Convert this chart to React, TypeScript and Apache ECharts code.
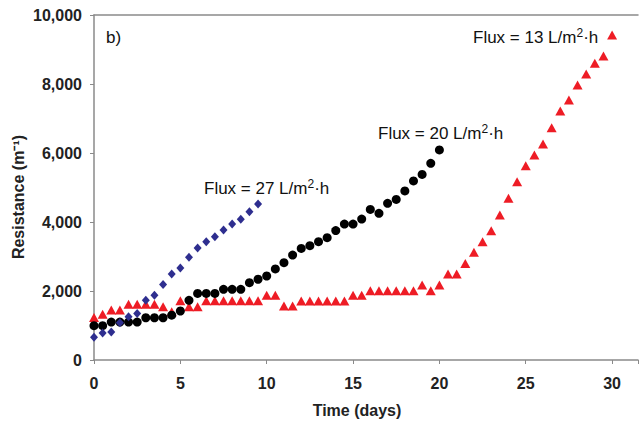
import React, { useEffect, useRef } from "react";
import * as echarts from "echarts";

// Time (days) for each series
const daysFlux27: number[] = [0, 0.5, 1, 1.5, 2, 2.5, 3, 3.5, 4, 4.5, 5, 5.5, 6, 6.5, 7, 7.5, 8, 8.5, 9, 9.5];
const resistFlux27: number[] = [660, 780, 810, 1080, 1255, 1350, 1730, 1880, 2190, 2490, 2670, 2975, 3245, 3430, 3575, 3770, 3940, 4080, 4300, 4520];

const daysFlux20: number[] = [
  0, 0.5, 1, 1.5, 2, 2.5, 3, 3.5, 4, 4.5, 5, 5.5, 6, 6.5, 7, 7.5, 8, 8.5, 9, 9.5,
  10, 10.5, 11, 11.5, 12, 12.5, 13, 13.5, 14, 14.5, 15, 15.5, 16, 16.5, 17, 17.5, 18, 18.5, 19, 19.5, 20,
];
const resistFlux20: number[] = [
  995, 995, 1100, 1100, 1100, 1100, 1225, 1225, 1225, 1300, 1420, 1730, 1930, 1930, 1930, 2050, 2050, 2050, 2240, 2340,
  2435, 2640, 2820, 3040, 3235, 3315, 3430, 3545, 3750, 3940, 3940, 4085, 4365, 4250, 4540, 4655, 4900, 5190, 5380, 5700, 6090,
];

const daysFlux13: number[] = [
  0, 0.5, 1, 1.5, 2, 2.5, 3, 3.5, 4, 4.5, 5, 5.5, 6, 6.5, 7, 7.5, 8, 8.5, 9, 9.5,
  10, 10.5, 11, 11.5, 12, 12.5, 13, 13.5, 14, 14.5, 15, 15.5, 16, 16.5, 17, 17.5, 18, 18.5, 19, 19.5,
  20, 20.5, 21, 21.5, 22, 22.5, 23, 23.5, 24, 24.5, 25, 25.5, 26, 26.5, 27, 27.5, 28, 28.5, 29, 29.5, 30,
];
const resistFlux13: number[] = [
  1230, 1325, 1450, 1450, 1615, 1615, 1615, 1615, 1545, 1400, 1720, 1545, 1545, 1720, 1720, 1720, 1720, 1720, 1720, 1720,
  1875, 1875, 1565, 1565, 1710, 1710, 1710, 1710, 1710, 1710, 1880, 1880, 2010, 2010, 2010, 2010, 2010, 2010, 2175, 2010,
  2175, 2490, 2490, 2800, 3120, 3430, 3750, 4200, 4685, 5170, 5630, 5940, 6260, 6735, 7215, 7535, 7970, 8290, 8600, 8810, 9420,
];

const xTicks: number[] = [0, 5, 10, 15, 20, 25, 30];

const FONT = "'Liberation Sans', Arial, Helvetica, sans-serif";

function zip(xs: number[], ys: number[]): number[][] {
  return xs.map((x, i) => [x, ys[i]]);
}

const fluxRich = {
  sup: { fontSize: 12, fontFamily: FONT, fill: "#111", verticalAlign: "top", lineHeight: 20, padding: [0, 0, 0, 0] },
};

function fluxLabel(x: number, y: number, flux: string) {
  return {
    type: "text",
    x,
    y,
    style: {
      text: `Flux = ${flux} L/m{sup|2}\u00B7h`,
      fontSize: 17,
      fontFamily: FONT,
      fill: "#111",
      lineHeight: 20,
      verticalAlign: "middle",
      rich: fluxRich,
    },
  };
}

export default function App() {
  const ref = useRef<HTMLDivElement>(null);

  useEffect(() => {
    if (!ref.current) return;
    const chart = echarts.init(ref.current, undefined, { renderer: "svg" });
    const axisGray = "#8a8a8a";
    chart.setOption({
      animation: false,
      backgroundColor: "#ffffff",
      grid: { left: 94, top: 15, right: 0, bottom: 63, containLabel: false },
      xAxis: [
        {
          type: "value",
          min: 0,
          max: 31.5,
          interval: 5,
          axisLine: { show: true, lineStyle: { color: axisGray, width: 1.5 } },
          axisTick: { show: true, inside: false, length: 4, lineStyle: { color: axisGray } },
          axisLabel: {
            fontFamily: FONT,
            fontWeight: "bold",
            fontSize: 16,
            color: "#222",
            margin: 15,
            formatter: (v: number) => (xTicks.indexOf(v) >= 0 ? String(v) : ""),
          },
          splitLine: { show: false },
        },
        {
          type: "value",
          position: "top",
          min: 0,
          max: 31.5,
          axisLine: { show: true, onZero: false, lineStyle: { color: axisGray, width: 1.5 } },
          axisTick: { show: false },
          axisLabel: { show: false },
          splitLine: { show: false },
        },
      ],
      yAxis: {
        type: "value",
        min: 0,
        max: 10000,
        interval: 2000,
        axisLine: { show: true, lineStyle: { color: axisGray, width: 1.5 } },
        axisTick: { show: true, inside: false, length: 4, lineStyle: { color: axisGray } },
        axisLabel: {
          fontFamily: FONT,
          fontWeight: "bold",
          fontSize: 16,
          color: "#222",
          margin: 12,
          formatter: (v: number) => v.toLocaleString("en-US"),
        },
        splitLine: { show: false },
      },
      series: [
        {
          name: "Flux 13",
          type: "scatter",
          symbol: "triangle",
          symbolSize: [10, 9],
          itemStyle: { color: "#ee1c25", opacity: 1 },
          data: zip(daysFlux13, resistFlux13),
        },
        {
          name: "Flux 20",
          type: "scatter",
          symbol: "circle",
          symbolSize: 9,
          itemStyle: { color: "#000000", opacity: 1 },
          data: zip(daysFlux20, resistFlux20),
        },
        {
          name: "Flux 27",
          type: "scatter",
          symbol: "diamond",
          symbolSize: [8, 9],
          itemStyle: { color: "#2e2e8f", opacity: 1 },
          data: zip(daysFlux27, resistFlux27),
        },
      ],
      graphic: [
        {
          type: "text",
          x: 106,
          y: 37,
          style: { text: "b)", fontSize: 17, fontFamily: FONT, fill: "#111", verticalAlign: "middle" },
        },
        fluxLabel(204, 188, "27"),
        fluxLabel(378, 133, "20"),
        fluxLabel(473, 37, "13"),
        {
          type: "text",
          x: 357,
          y: 410,
          style: {
            text: "Time (days)",
            fontSize: 16,
            fontWeight: "bold",
            fontFamily: FONT,
            fill: "#222",
            align: "center",
            verticalAlign: "middle",
          },
        },
        {
          type: "text",
          x: 18,
          y: 197,
          rotation: Math.PI / 2,
          style: {
            text: "Resistance (m\u207B\u00B9)",
            fontSize: 16,
            fontWeight: "bold",
            fontFamily: FONT,
            fill: "#222",
            align: "center",
            verticalAlign: "middle",
          },
        },
      ],
    });
    return () => chart.dispose();
  }, []);

  return (
    <div
      ref={ref}
      style={{ position: "fixed", left: 0, top: 0, width: 641, height: 423, background: "#fff" }}
    />
  );
}
